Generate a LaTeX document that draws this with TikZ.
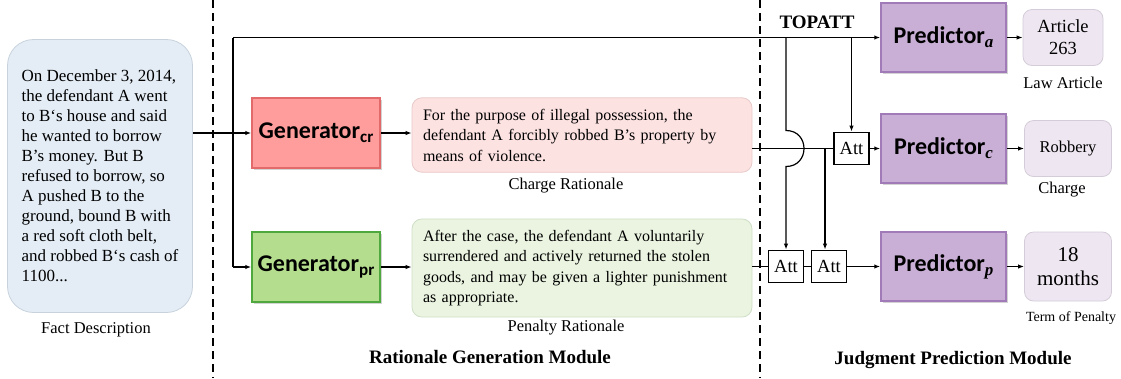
\documentclass[tikz,border=0pt]{standalone}
\usepackage{fontspec}
\setmainfont{Liberation Serif}
\newfontfamily\calibfont{Carlito}
\usetikzlibrary{positioning, arrows.meta, shadows}

\definecolor{factfill}{HTML}{E4EDF6}
\definecolor{factline}{HTML}{C8D2DC}
\definecolor{crfill}{HTML}{FF9C9C}
\definecolor{crline}{HTML}{E26A6A}
\definecolor{prfill}{HTML}{B4DE8E}
\definecolor{prline}{HTML}{4FA83D}
\definecolor{cratfill}{HTML}{FDE2E2}
\definecolor{cratline}{HTML}{E8CACA}
\definecolor{pratfill}{HTML}{EAF4E0}
\definecolor{pratline}{HTML}{CFDEC6}
\definecolor{predfill}{HTML}{C9AFD6}
\definecolor{predline}{HTML}{A17BB8}
\definecolor{outfill}{HTML}{EEE6F1}
\definecolor{outline}{HTML}{D4CCD8}

\newcommand{\lowsub}[1]{\raisebox{-0.35ex}{\fontsize{17}{17}\selectfont #1}}

\tikzset{
  wire/.style={line width=1.2pt},
  conn/.style={line width=1.2pt, -{Latex[length=6pt,width=4.5pt]}},
  modline/.style={line width=1.4pt, dash pattern=on 8pt off 5pt},
  genbox/.style={draw, line width=1.5pt, minimum width=128pt, minimum height=70pt,
    font=\calibfont\bfseries\fontsize{24}{26}\selectfont,
    drop shadow={shadow xshift=2pt, shadow yshift=-2pt, opacity=0.35}},
  predbox/.style={genbox, fill=predfill, draw=predline, minimum width=125pt, minimum height=69pt},
  ratbox/.style={draw, line width=0.8pt, rounded corners=10pt, text width=318pt, inner sep=11pt,
    align=left, font=\fontsize{16}{20.5}\selectfont},
  outbox/.style={draw=outline, fill=outfill, line width=0.8pt, rounded corners=9pt, align=center},
  attbox/.style={draw, line width=1.8pt, minimum width=35pt, minimum height=32pt, inner sep=1pt,
    font=\fontsize{18.5}{20}\selectfont},
  caption/.style={font=\fontsize{16.5}{18}\selectfont},
  module/.style={font=\bfseries\fontsize{19}{21}\selectfont}
}

\begin{document}
\begin{tikzpicture}[x=1pt, y=-1pt]
\useasboundingbox (0,0) rectangle (1121,378);

% module borders
\draw[modline] (213,0) -- (213,378);
\draw[modline] (760,0) -- (760,378);

% fact description
\node[draw=factline, fill=factfill, line width=0.8pt, rounded corners=26pt,
  minimum width=185pt, minimum height=273pt, align=left,
  font=\fontsize{17}{20}\selectfont] (fact) at (100,176)
  {On December 3, 2014,\\the defendant A went\\to B‘s house and said\\he wanted to borrow\\B’s money. But B\\refused to borrow, so\\A pushed B to the\\ground, bound B with\\a red soft cloth belt,\\and robbed B‘s cash of\\1100...};
\node[caption] (factlab) at (96,330) {Fact Description};

% generators
\node[genbox, fill=crfill, draw=crline] (gencr) at (316,133) {Generator\lowsub{cr}};
\node[genbox, fill=prfill, draw=prline] (genpr) at (316,267) {Generator\lowsub{pr}};

% rationales
\node[ratbox, fill=cratfill, draw=cratline, minimum height=70pt] (crat) at (582,135)
  {For the purpose of illegal possession,\ the\\defendant A forcibly robbed B’s property by\\means of violence.};
\node[caption] (cratlab) at (566,186) {Charge Rationale};
\node[ratbox, fill=pratfill, draw=pratline, minimum height=90pt] (prat) at (582,268)
  {After the case, the defendant A voluntarily\\surrendered and actively returned the stolen\\goods, and may be given a lighter punishment\\as appropriate.};
\node[caption] (pratlab) at (566,328) {Penalty Rationale};

% predictors
\node[predbox] (preda) at (943.5,37.5) {Predictor\lowsub{\rmfamily\itshape a}};
\node[predbox] (predc) at (943.5,148.5) {Predictor\lowsub{\rmfamily\itshape c}};
\node[predbox] (predp) at (943.5,266.5) {Predictor\lowsub{\rmfamily\itshape p}};

% outputs
\node[outbox, minimum width=80pt, minimum height=56pt, font=\fontsize{18.5}{22}\selectfont] (art) at (1063,37.5) {Article\\263};
\node[caption] (artlab) at (1063,83) {Law Article};
\node[outbox, minimum width=87pt, minimum height=56pt, font=\fontsize{16.5}{19}\selectfont] (rob) at (1068,148.5) {Robbery};
\node[caption] (roblab) at (1062,190) {Charge};
\node[outbox, minimum width=87pt, minimum height=69pt, font=\fontsize{21}{24}\selectfont] (mon) at (1068,266.5) {18\\months};
\node[caption, font=\fontsize{14}{16}\selectfont] (monlab) at (1071,318) {Term of Penalty};

% attention blocks
\node[attbox] (attc) at (851.5,148.5) {Att};
\node[attbox] (attp1) at (786,266.5) {Att};
\node[attbox] (attp2) at (829,266.5) {Att};

\node[module] (topatt) at (817,22) {TOPATT};
\node[module] (ratmod) at (490,357) {Rationale Generation Module};
\node[module] (jpmod) at (953,360) {Judgment Prediction Module};

% fact to generators
\coordinate (ftop) at (233,37.5);
\coordinate (fbend) at (233,267);
\draw[conn] (fact.east |- gencr.west) -- (gencr.west);
\draw[wire] (ftop) -- (fbend);
\draw[conn] (fbend) -- (genpr.west);
\draw[conn] (ftop) -- (preda.west);
\draw[conn] (gencr) -- (crat.west |- gencr);
\draw[conn] (genpr) -- (prat.west |- genpr);

% TOPATT branches
\coordinate (tb1) at (attp1.north |- preda.west);
\coordinate (tb2) at (attc.north |- preda.west);
\coordinate (jmpa) at (786,130.5);
\coordinate (jmpb) at (786,166.5);
\draw[conn] (tb1) -- (jmpa) .. controls (810,130.5) and (810,166.5) .. (jmpb) -- (attp1.north);
\draw[conn] (tb2) -- (attc.north);

% rationales to attention
\coordinate (cbr) at (825,148.5);
\draw[wire] (crat.east |- attc.west) -- (attc.west);
\draw[conn] (cbr) -- (cbr |- attp2.north);
\draw[wire] (prat.east |- attp1.west) -- (attp1.west);
\draw[wire] (attp1) -- (attp2);

% to predictors and outputs
\draw[conn] (attc) -- (predc);
\draw[conn] (attp2) -- (predp);
\draw[conn] (preda) -- (art);
\draw[conn] (predc) -- (rob);
\draw[conn] (predp) -- (mon);
\end{tikzpicture}
\end{document}
